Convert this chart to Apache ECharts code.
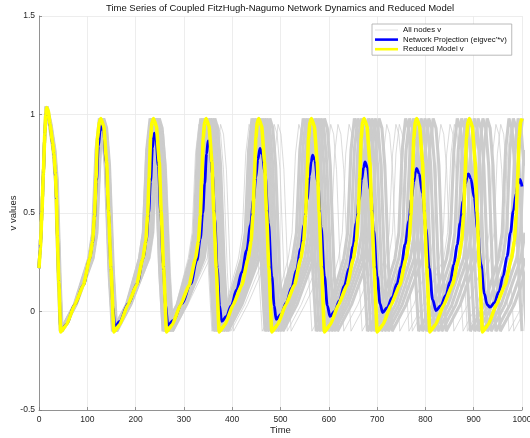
<!DOCTYPE html>
<html><head><meta charset="utf-8">
<script src="https://cdn.jsdelivr.net/npm/echarts@6/dist/echarts.min.js"></script>
<style>html,body{margin:0;padding:0;background:#fff}#c{width:530px;height:438px}</style>
</head><body><div id="c"></div>
<script>
const titleText = "Time Series of Coupled FitzHugh-Nagumo Network Dynamics and Reduced Model";
const xLabel = "Time";
const yLabel = "v values";
const legendNames = ["All nodes v", "Network Projection (eigvec'*v)", "Reduced Model v"];

// Reduced model v (yellow)
const reducedModel = [
[0,0.22],[3,0.33],[6,0.50],[9,0.70],[12,0.90],[14,1.00],[16,1.035],[19,1.02],[23,0.95],[28,0.86],[31,0.80],[34,0.70],[36,0.58],[38,0.38],[41,0.15],[45,-0.104],
[57,-0.067],[74,0.034],[92,0.135],[105,0.27],[111,0.355],[115,0.49],[118,0.676],[121,0.88],[125,0.96],[128,0.98],[134,0.94],[140,0.76],[144,0.505],[149,0.22],[155,-0.104],
[167,-0.067],[184,0.034],[202,0.135],[215,0.27],[221,0.355],[225,0.49],[228,0.676],[231,0.88],[234,0.96],[237,0.98],[243,0.94],[249,0.76],[253,0.505],[258,0.22],[264,-0.104],
[276,-0.067],[293,0.034],[311,0.135],[324,0.27],[330,0.355],[334,0.49],[337,0.676],[340,0.88],[343,0.96],[346,0.98],[352,0.94],[358,0.76],[362,0.505],[367,0.22],[373,-0.104],
[385,-0.067],[402,0.034],[420,0.135],[433,0.27],[439,0.355],[443,0.49],[446,0.676],[449,0.88],[452,0.96],[455,0.98],[461,0.94],[467,0.76],[471,0.505],[476,0.22],[482,-0.104],
[494,-0.067],[511,0.034],[529,0.135],[542,0.27],[548,0.355],[552,0.49],[555,0.676],[558,0.88],[561,0.96],[564,0.98],[570,0.94],[576,0.76],[580,0.505],[585,0.22],[591,-0.104],
[603,-0.067],[620,0.034],[638,0.135],[651,0.27],[657,0.355],[661,0.49],[664,0.676],[667,0.88],[670,0.96],[673,0.98],[679,0.94],[685,0.76],[689,0.505],[694,0.22],[700,-0.104],
[712,-0.067],[729,0.034],[747,0.135],[760,0.27],[766,0.355],[770,0.49],[773,0.676],[776,0.88],[779,0.96],[782,0.98],[788,0.94],[794,0.76],[798,0.505],[803,0.22],[809,-0.104],
[821,-0.067],[838,0.034],[856,0.135],[869,0.27],[875,0.355],[879,0.49],[882,0.676],[885,0.88],[888,0.96],[891,0.98],[897,0.94],[903,0.76],[907,0.505],[912,0.22],[918,-0.104],
[930,-0.067],[947,0.034],[965,0.135],[978,0.27],[984,0.355],[988,0.49],[991,0.676],[994,0.88],[997,0.96],[1000,0.98]
];

// Network projection (blue)
const networkProjection = [
[0,0.22],[3,0.33],[6,0.50],[9,0.70],[12,0.90],[14,0.99],[16,1.02],[19,1.01],[23,0.94],[28,0.85],[31,0.79],[34,0.69],[36,0.57],[38,0.38],[41,0.15],[45,-0.10],
[57,-0.065],[74,0.035],[92,0.135],[105,0.265],[111,0.35],[115,0.47],[119,0.66],[123,0.84],[126.5,0.915],[130,0.945],[133.5,0.92],[139,0.76],[144,0.50],[149,0.22],[153,0.02],[157,-0.08],
[167,-0.05],[185,0.04],[203,0.14],[216,0.27],[222,0.36],[227,0.50],[231,0.66],[235,0.83],[238.5,0.905],[242,0.88],[247,0.74],[252,0.50],[257,0.24],[262,0.03],[267,-0.07],
[278,-0.045],[296,0.04],[314,0.14],[327,0.26],[334,0.37],[339,0.50],[343,0.65],[347,0.80],[350,0.866],[354,0.84],[359,0.70],[364,0.47],[369,0.22],[374,0.03],[378,-0.05],
[388,-0.025],[398,0.03],[409,0.11],[420,0.20],[430,0.31],[438,0.44],[444,0.566],[449,0.68],[453,0.77],[457.5,0.828],[462,0.80],[468,0.70],[475,0.45],[482,0.18],[487,0.03],[491,-0.04],
[501,-0.015],[512,0.045],[523,0.12],[533,0.21],[542,0.32],[549,0.44],[555,0.57],[560,0.69],[563.5,0.76],[566.5,0.794],[571,0.77],[577,0.66],[584,0.43],[591,0.18],[597,0.03],[602.5,-0.025],
[612,0.0],[622,0.055],[632,0.13],[642,0.22],[650,0.33],[657,0.45],[663,0.57],[668,0.67],[672,0.73],[675,0.76],[680,0.73],[686,0.62],[693,0.41],[700,0.18],[706,0.04],[711.5,-0.005],
[721,0.02],[731,0.07],[741,0.14],[750,0.23],[758,0.34],[766,0.46],[771,0.57],[776,0.66],[779.5,0.71],[782,0.726],[787,0.70],[794,0.60],[801,0.42],[808,0.22],[815,0.06],[822,0.005],
[832,0.03],[842,0.08],[851,0.15],[859,0.24],[866,0.34],[872,0.45],[878,0.56],[883,0.65],[886.5,0.685],[889,0.698],[894,0.675],[901,0.58],[908,0.42],[915,0.24],[922,0.09],[928,0.035],[933.7,0.022],
[943,0.045],[952,0.10],[961,0.18],[969,0.28],[976,0.40],[982,0.51],[988,0.60],[992,0.65],[996,0.67],[1000,0.635]
];

// Individual node traces (gray): vertex times per node, with the v levels of those vertices
const nodeStartLevels = [0.22,0.5,0.9,1.04,0.95,0.82,0.66,0.4,0.15,-0.1];
const nodeCycleLevels = [0.035,0.27,0.40,0.82,0.98,0.93,0.74,0.20,-0.10];
const straggCycleLevels = [0.035,0.27,0.40,0.80,0.95,0.90,0.72,0.20,-0.10];

const node1T = [0,6,12,14,21,29,34,37,40,44,
73,103,111,118,125,131,137,145,152, 181,208,216,223,230,236,242,250,257, 286,313,321,328,335,341,347,355,362,
391,419,427,434,441,447,453,461,468, 497,525,533,540,547,553,559,567,574, 603,631,639,646,653,659,665,673,680,
709,737,745,752,759,765,771,779,786, 815,844,852,859,866,872,878,886,893, 922,951,959,966,973,979,985,993,1000];
const node2T = [0,6,12,15,22,30,35,38,41,45,
74,104,112,119,126,132,138,146,153, 182,211,219,226,233,239,245,253,260, 289,317,325,332,339,345,351,359,366,
395,424,432,439,446,452,458,466,473, 502,531,539,546,553,559,565,573,580, 609,638,646,653,660,666,672,680,687,
716,745,753,760,767,773,779,787,794, 823,853,861,868,875,881,887,895,902, 931,960,968,975,982,988,994,1002,1009];
const node3T = [0,6,12,15,22,30,35,38,41,45,
74,106,114,121,128,134,140,148,155, 184,213,221,228,235,241,247,255,262, 291,321,329,336,343,349,355,363,370,
399,429,437,444,451,457,463,471,478, 507,537,545,552,559,565,571,579,586, 615,645,653,660,667,673,679,687,694,
723,753,761,768,775,781,787,795,802, 831,861,869,876,883,889,895,903,910, 939,970,978,985,992,998,1004];
const node4T = [0,6,12,15,23,31,36,39,42,46,
75,107,115,122,129,135,141,149,156, 185,216,224,231,238,244,250,258,265, 294,325,333,340,347,353,359,367,374,
403,435,443,450,457,463,469,477,484, 513,543,551,558,565,571,577,585,592, 621,652,660,667,674,680,686,694,701,
730,761,769,776,783,789,795,803,810, 839,870,878,885,892,898,904,912,919, 948,979,987,994,1001];
const node5T = [0,6,12,16,23,31,36,39,42,46,
75,108,116,123,130,136,142,150,157, 186,219,227,234,241,247,253,261,268, 297,329,337,344,351,357,363,371,378,
407,440,448,455,462,468,474,482,489, 518,550,558,565,572,578,584,592,599, 628,660,668,675,682,688,694,702,709,
738,769,777,784,791,797,803,811,818, 847,879,887,894,901,907,913,921,928, 957,989,997,1004];
const node6T = [0,6,12,16,24,32,37,40,43,47,
76,109,117,124,131,137,143,151,158, 187,221,229,236,243,249,255,263,270, 299,333,341,348,355,361,367,375,382,
411,445,453,460,467,473,479,487,494, 523,556,564,571,578,584,590,598,605, 634,667,675,682,689,695,701,709,716,
745,777,785,792,799,805,811,819,826, 855,887,895,902,909,915,921,929,936, 965,998,1006];
const node7T = [0,6,12,16,24,32,37,40,43,47,
76,111,119,126,133,139,145,153,160, 189,224,232,239,246,252,258,266,273, 302,338,346,353,360,366,372,380,387,
416,450,458,465,472,478,484,492,499, 528,562,570,577,584,590,596,604,611, 640,674,682,689,696,702,708,716,723,
752,785,793,800,807,813,819,827,834, 863,897,905,912,919,925,931,939,946, 975,1008];
const node8T = [0,6,12,17,25,33,38,41,44,48,
77,112,120,127,134,140,146,154,161, 190,227,235,242,249,255,261,269,276, 305,342,350,357,364,370,376,384,391,
420,456,464,471,478,484,490,498,505, 534,569,577,584,591,597,603,611,618, 647,682,690,697,704,710,716,724,731,
760,794,802,809,816,822,828,836,843, 872,906,914,921,928,934,940,948,955, 984,1018];
const strag1T = [0,6,12,16,24,32,37,40,43,47,
76,113,121,128,135,141,147,155,162, 191,230,238,245,252,258,264,272,279, 308,354,362,369,376,382,388,396,403,
432,473,481,488,495,501,507,515,522, 551,597,605,612,619,625,631,639,646, 675,717,725,732,739,745,751,759,766,
795,838,846,853,860,866,872,880,887, 916,955,963,970,977,983,989,997,1004];
const strag2T = [0,6,12,16,23,31,36,39,42,46,
75,112,120,127,134,140,146,154,161, 190,228,236,243,250,256,262,270,277, 306,348,356,363,370,376,382,390,397,
426,465,473,480,487,493,499,507,514, 543,582,590,597,604,610,616,624,631, 660,698,706,713,720,726,732,740,747,
776,810,818,825,832,838,844,852,859, 888,924,932,939,946,952,958,966,973, 1002];
const strag3T = [0,6,12,14,21,29,34,37,40,44,
73,102,110,117,124,130,136,144,151, 180,206,214,221,228,234,240,248,255, 284,309,317,324,331,337,343,351,358,
387,413,421,428,435,441,447,455,462, 491,516,524,531,538,544,550,558,565, 594,620,628,635,642,648,654,662,669,
698,724,732,739,746,752,758,766,773, 802,829,837,844,851,857,863,871,878, 907,934,942,949,956,962,968,976,983, 1012];

const mainNodes = [node1T,node2T,node3T,node4T,node5T,node6T,node7T,node8T];
const stragglers = [strag1T,strag2T,strag3T];

function pairUp(times, cycleLevels){
  return times.map((t,i)=>[t, i<nodeStartLevels.length ? nodeStartLevels[i] : cycleLevels[(i-nodeStartLevels.length)%cycleLevels.length]]);
}

const FONT = "'Liberation Sans', Arial, Helvetica, sans-serif";
const series = [];
mainNodes.forEach(t=>series.push({type:'line', name:legendNames[0], data:pairUp(t,nodeCycleLevels), symbol:'none', silent:true,
  lineStyle:{color:'#cccccc', width:3.1}, itemStyle:{color:'#cccccc'}, z:1}));
stragglers.forEach(t=>series.push({type:'line', name:legendNames[0], data:pairUp(t,straggCycleLevels), symbol:'none', silent:true,
  lineStyle:{color:'#cccccc', width:0.7}, itemStyle:{color:'#cccccc'}, z:1}));
series.push({type:'line', name:legendNames[1], data:networkProjection, symbol:'none', smooth:0.35, smoothMonotone:'x',
  lineStyle:{color:'#0000ff', width:2.8}, itemStyle:{color:'#0000ff'}, z:3});
series.push({type:'line', name:legendNames[2], data:reducedModel, symbol:'none', smooth:0.15, smoothMonotone:'x',
  lineStyle:{color:'#ffff00', width:3.6}, itemStyle:{color:'#ffff00'}, z:4});

const chart = echarts.init(document.getElementById('c'), null, {renderer:'canvas'});
chart.setOption({
  animation:false,
  backgroundColor:'#ffffff',
  textStyle:{fontFamily:FONT},
  title:{text:titleText, left:280, top:3, textAlign:'center', padding:0,
    textStyle:{fontSize:9.5, fontWeight:'normal', color:'#111', fontFamily:FONT}},
  legend:{orient:'vertical', left:372, top:24, padding:[2,5,2,3], itemWidth:23, itemHeight:8, itemGap:1.6,
    backgroundColor:'#ffffff', borderColor:'#a8a8a8', borderWidth:0.8, borderRadius:0,
    textStyle:{fontSize:7.8, color:'#111', fontFamily:FONT},
    data:[{name:legendNames[0], icon:'path://M0,0h40v1h-40z'},
          {name:legendNames[1], icon:'path://M0,0h40v4.5h-40z'},
          {name:legendNames[2], icon:'path://M0,0h40v4.5h-40z'}]},
  grid:{left:39, right:8, top:16, bottom:28, containLabel:false, outerBoundsMode:'none'},
  xAxis:{type:'value', min:0, max:1000, interval:100, name:xLabel, nameLocation:'middle', nameGap:15, nameMoveOverlap:false,
    nameTextStyle:{fontSize:9.5, color:'#222', fontFamily:FONT},
    axisLine:{show:true, onZero:false, lineStyle:{color:'#7a7a7a', width:0.8}},
    axisTick:{show:true, inside:true, length:3, lineStyle:{color:'#7a7a7a', width:0.8}},
    axisLabel:{fontSize:8.5, color:'#262626', margin:5, fontFamily:FONT, formatter:v=>String(v)},
    splitLine:{show:true, lineStyle:{color:'#e9e9e9', width:0.8}}},
  yAxis:{type:'value', min:-0.5, max:1.5, interval:0.5, name:yLabel, nameLocation:'middle', nameGap:21, nameMoveOverlap:false,
    nameTextStyle:{fontSize:9.5, color:'#222', fontFamily:FONT},
    axisLine:{show:true, onZero:false, lineStyle:{color:'#7a7a7a', width:0.8}},
    axisTick:{show:true, inside:true, length:3, lineStyle:{color:'#7a7a7a', width:0.8}},
    axisLabel:{fontSize:8.5, color:'#262626', margin:4, fontFamily:FONT, formatter:v=>String(v)},
    splitLine:{show:true, lineStyle:{color:'#e9e9e9', width:0.8}}},
  series:series
});
</script>
</body></html>
